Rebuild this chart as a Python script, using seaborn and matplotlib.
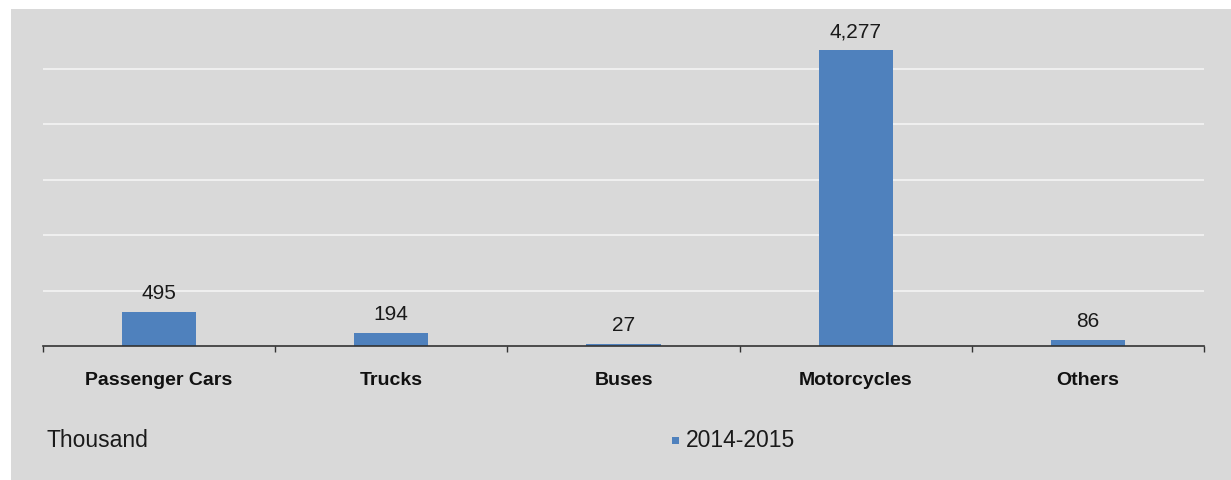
import pandas as pd
import seaborn as sns
import matplotlib.pyplot as plt
from matplotlib.patches import Rectangle
from matplotlib.ticker import FixedLocator

categories = ["Passenger Cars", "Trucks", "Buses", "Motorcycles", "Others"]
values = [495, 194, 27, 4277, 86]
series = "2014-2015"
unit_label = "Thousand"

df = pd.DataFrame({"Type": categories, "Units": values, "Series": series})

W, H = 1231, 481
sns.set_theme(style="white")
plt.rcParams["font.family"] = ["Liberation Sans", "DejaVu Sans"]

fig = plt.figure(figsize=(W / 100, H / 100), dpi=100, facecolor="white")
# gray panel behind the chart
bg = fig.add_axes([11 / W, 0, 1 - 11 / W, 1 - 10 / H], zorder=-5)
bg.set_facecolor("#D9D9D9")
bg.set_xticks([])
bg.set_yticks([])
for s in bg.spines.values():
    s.set_visible(False)

left, right, bottom, top = 43, 1204, 347, 20
ax = fig.add_axes([left / W, 1 - bottom / H, (right - left) / W, (bottom - top) / H])
ax.set_facecolor("none")

sns.barplot(data=df, x="Type", y="Units", hue="Series", palette=["#4F81BD"],
            width=0.32, ax=ax, legend=False, zorder=3, saturation=1, linewidth=0)

px_per_unit = 277 / 4000
ax.set_ylim(0, (bottom - top) / px_per_unit)
ax.set_xlim(-0.5, len(categories) - 0.5)

for y in [800, 1600, 2400, 3200, 4000]:
    ax.axhline(y, color="#F4F4F4", lw=1.2, zorder=1)

for c in ax.containers:
    ax.bar_label(c, labels=[f"{v:,}" for v in values], padding=7, fontsize=15,
                 color="#1a1a1a", clip_on=False)

for s in ["top", "right", "left"]:
    ax.spines[s].set_visible(False)
ax.spines["bottom"].set_color("#333333")
ax.spines["bottom"].set_linewidth(1.2)
ax.spines["bottom"].set_zorder(4)
ax.set_yticks([])
ax.set_xlabel("")
ax.set_ylabel("")
ax.tick_params(axis="x", which="major", length=0, pad=18, labelsize=14)
for t in ax.get_xticklabels():
    t.set_fontweight("bold")
    t.set_color("#111111")
ax.xaxis.set_minor_locator(FixedLocator([i - 0.5 for i in range(len(categories) + 1)]))
ax.tick_params(axis="x", which="minor", bottom=True, length=4, width=1, color="#333333")

fig.text(47 / W, 1 - 441 / H, unit_label, fontsize=16.5, color="#1a1a1a", va="center")
fig.patches.append(Rectangle((672 / W, 1 - 445 / H), 7 / W, 7 / H,
                             transform=fig.transFigure, facecolor="#4F81BD",
                             edgecolor="none", zorder=2))
fig.text(686 / W, 1 - 441 / H, series, fontsize=16.5, color="#1a1a1a", va="center")

fig.savefig("out.png", dpi=100, facecolor=fig.get_facecolor())
